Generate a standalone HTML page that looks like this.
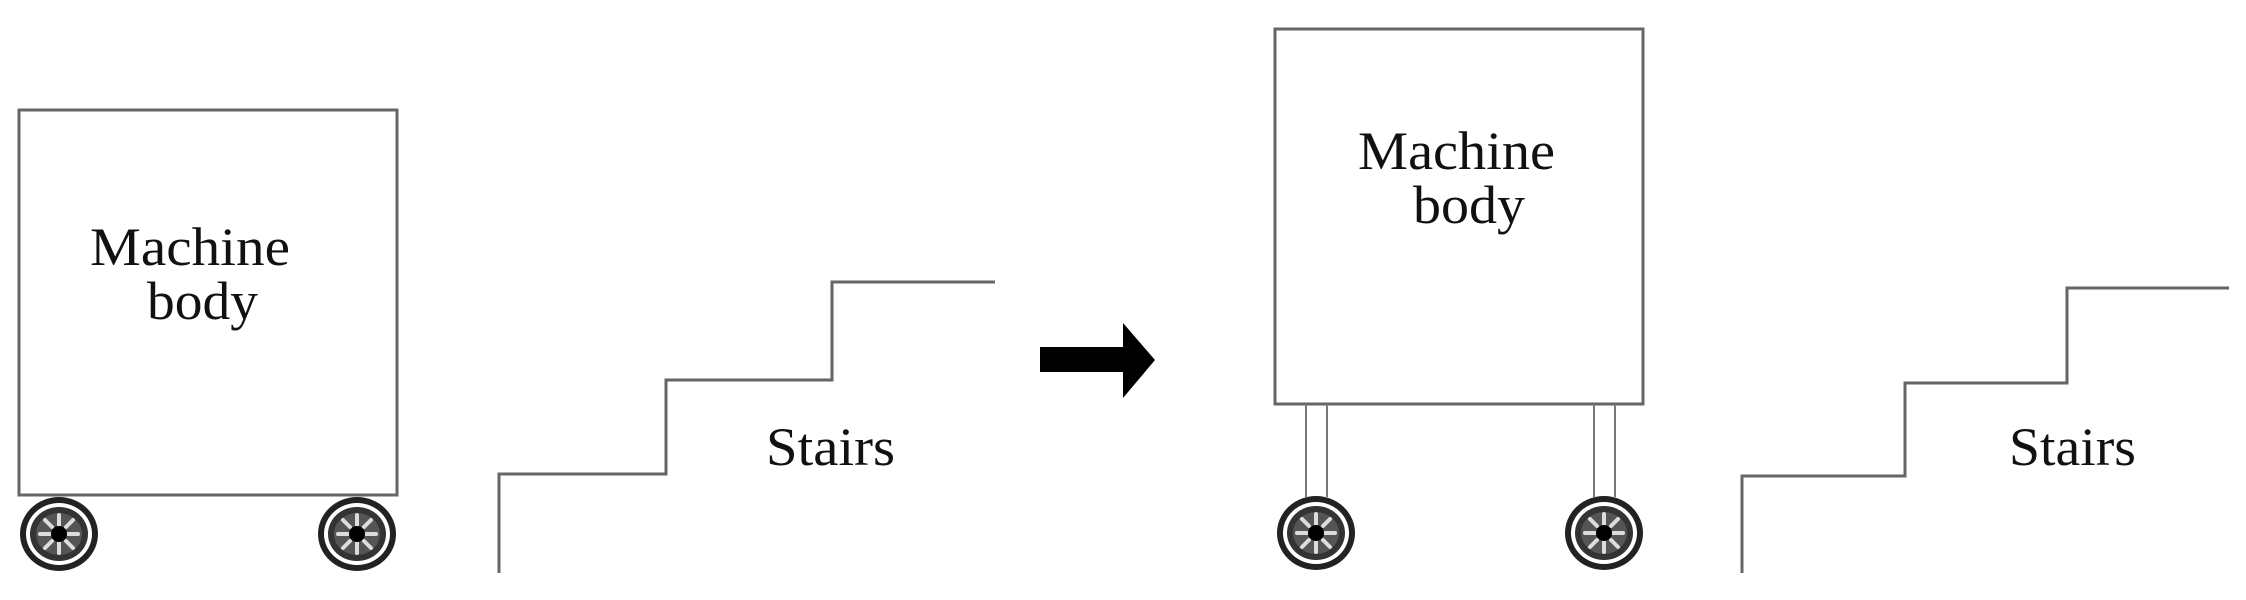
<!DOCTYPE html>
<html><head><meta charset="utf-8"><style>
html,body{margin:0;padding:0;background:#fff;}
svg{display:block;}
text{font-family:"Liberation Serif",serif;font-size:54px;fill:#111;}
</style></head><body>
<svg width="2246" height="600" viewBox="0 0 2246 600" xmlns="http://www.w3.org/2000/svg">
<defs>
<g id="wheel">
<ellipse cx="0" cy="0" rx="39" ry="37" fill="#222"/>
<ellipse cx="0" cy="0" rx="33" ry="31" fill="#fff"/>
<ellipse cx="0" cy="0" rx="29" ry="27" fill="#333"/>
<ellipse cx="0" cy="0" rx="23" ry="21" fill="#555"/>
<g stroke="#ddd" stroke-width="4" stroke-linecap="round">
<line x1="0" y1="-9" x2="0" y2="-19"/><line x1="0" y1="9" x2="0" y2="19"/>
<line x1="-9" y1="0" x2="-19" y2="0"/><line x1="9" y1="0" x2="19" y2="0"/>
<line x1="7" y1="7" x2="14" y2="14"/><line x1="-7" y1="-7" x2="-14" y2="-14"/>
<line x1="7" y1="-7" x2="14" y2="-14"/><line x1="-7" y1="7" x2="-14" y2="14"/>
</g>
<circle cx="0" cy="0" r="8" fill="#000"/>
</g>
</defs>
<g fill="none" stroke="#666" stroke-width="3">
<rect x="19" y="110" width="378" height="385"/>
<polyline points="499,573 499,474 666,474 666,380 832,380 832,282 995,282"/>
<rect x="1275" y="29" width="368" height="375"/>
</g>
<g stroke="#777" stroke-width="2">
<line x1="1306" y1="404" x2="1306" y2="497"/><line x1="1327" y1="404" x2="1327" y2="497"/>
<line x1="1594" y1="404" x2="1594" y2="497"/><line x1="1615" y1="404" x2="1615" y2="497"/>
</g>
<polyline fill="none" stroke="#666" stroke-width="3" points="1742,573 1742,476 1905,476 1905,383 2067,383 2067,288 2229,288"/>
<use href="#wheel" x="59" y="534"/>
<use href="#wheel" x="357" y="534"/>
<use href="#wheel" x="1316" y="533"/>
<use href="#wheel" x="1604" y="533"/>
<polygon points="1040,347 1123,347 1123,323 1155,360 1123,398 1123,372 1040,372" fill="#000"/>
<text x="90" y="265" textLength="200" lengthAdjust="spacingAndGlyphs">Machine</text>
<text x="147" y="319" textLength="111" lengthAdjust="spacingAndGlyphs">body</text>
<text x="766" y="465" textLength="129" lengthAdjust="spacingAndGlyphs">Stairs</text>
<text x="1358" y="169" textLength="197" lengthAdjust="spacingAndGlyphs">Machine</text>
<text x="1413" y="223" textLength="112" lengthAdjust="spacingAndGlyphs">body</text>
<text x="2009" y="465" textLength="127" lengthAdjust="spacingAndGlyphs">Stairs</text>
</svg>
</body></html>
